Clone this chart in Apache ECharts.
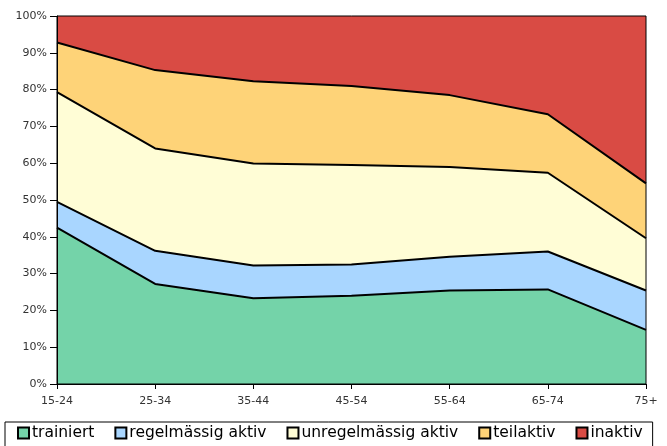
<!DOCTYPE html>
<html>
<head>
<meta charset="utf-8">
<script src="https://cdn.jsdelivr.net/npm/echarts@6/dist/echarts.min.js"></script>
<style>
  html, body { margin: 0; padding: 0; background: #fff; }
  #chart { width: 667px; height: 446px; }
</style>
</head>
<body>
<div id="chart"></div>
<script>
// Altersgruppen
const categories = ['15-24', '25-34', '35-44', '45-54', '55-64', '65-74', '75+']

// Anteile in Prozent (gestapelt = 100%)
const trainiert = [42.5, 27.2, 23.3, 24.0, 25.4, 25.7, 14.7]
const regelmaessig = [7.0, 9.0, 8.9, 8.5, 9.2, 10.3, 10.7]
const unregelmaessig = [29.8, 27.8, 27.7, 27.0, 24.4, 21.4, 14.2]
const teilaktiv = [13.5, 21.3, 22.4, 21.5, 19.5, 15.9, 14.9]
const inaktiv = [7.2, 14.7, 17.7, 19.0, 21.5, 26.7, 45.5]

const seriesNames = ['trainiert', 'regelmässig aktiv', 'unregelmässig aktiv', 'teilaktiv', 'inaktiv']
const seriesData = [trainiert, regelmaessig, unregelmaessig, teilaktiv, inaktiv]
const colors = ['#74d3a9', '#a9d6ff', '#fffdd6', '#fed378', '#d94b44']

const chart = echarts.init(document.getElementById('chart'))

// Flächen
const areaSeries = seriesNames.map((name, i) => ({
  name,
  type: 'line',
  stack: 'flaechen',
  data: seriesData[i],
  showSymbol: false,
  symbol: 'none',
  lineStyle: { width: 0 },
  areaStyle: { color: colors[i], opacity: 1 },
  itemStyle: { color: colors[i], borderColor: '#000', borderWidth: 1.2 },
  z: 2
}))

// schwarze Kanten über allen Flächen
const edgeSeries = seriesNames.slice(0, 4).map((name, i) => ({
  name: name + '_kante',
  type: 'line',
  stack: 'kanten',
  data: seriesData[i],
  showSymbol: false,
  symbol: 'none',
  lineStyle: { color: '#000', width: 2 },
  z: 5,
  silent: true
}))

chart.setOption({
  animation: false,
  color: colors,
  grid: {
    left: 57,
    right: 21,
    top: 16,
    bottom: 62,
    show: true,
    borderColor: '#000',
    borderWidth: 1,
    z: 6
  },
  legend: {
    left: 5,
    top: 422,
    width: 700,
    padding: [3, 10, 6, 12],
    itemGap: 20,
    itemWidth: 11,
    itemHeight: 11,
    icon: 'rect',
    borderColor: '#000',
    borderWidth: 1,
    textStyle: { fontFamily: 'DejaVu Sans', fontSize: 15.5, color: '#000', padding: [0, 0, 0, -2] },
    data: seriesNames
  },
  xAxis: {
    type: 'category',
    data: categories,
    boundaryGap: false,
    z: 7,
    axisLine: { lineStyle: { color: '#000', width: 1 } },
    axisTick: { show: true, length: 5, lineStyle: { color: '#000' } },
    axisLabel: { fontFamily: 'DejaVu Sans', fontSize: 11, color: '#333', margin: 12 }
  },
  yAxis: {
    type: 'value',
    min: 0,
    max: 100,
    interval: 10,
    z: 7,
    splitLine: { show: false },
    axisLine: { show: true, lineStyle: { color: '#000', width: 1 } },
    axisTick: { show: true, length: 7, lineStyle: { color: '#000' } },
    axisLabel: { fontFamily: 'DejaVu Sans', fontSize: 11, color: '#333', margin: 10, formatter: '{value}%' }
  },
  series: areaSeries.concat(edgeSeries)
})
</script>
</body>
</html>
